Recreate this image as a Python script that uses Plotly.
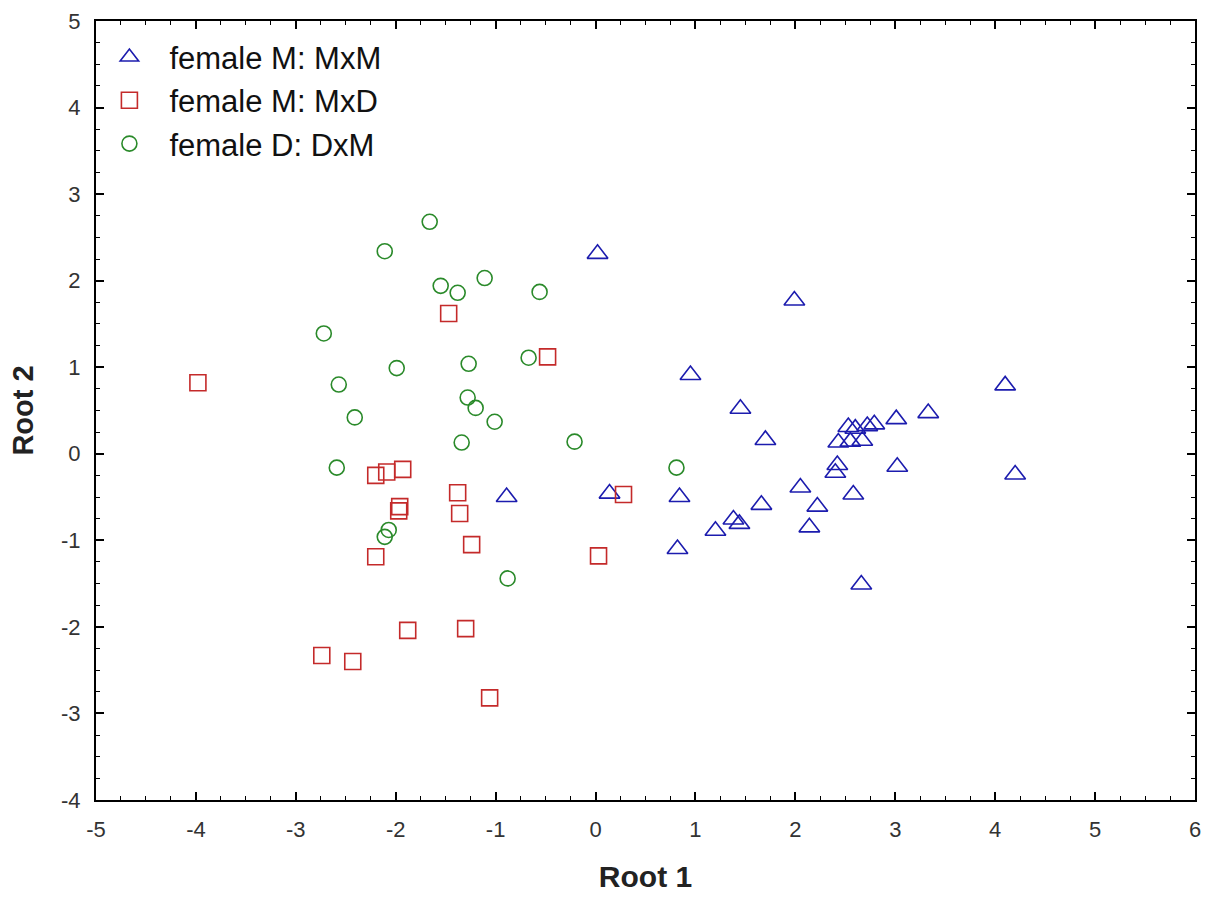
import plotly.graph_objects as go

mxm_x = [0.02, 1.99, 0.95, 4.10, 1.45, 3.33, 3.01, 2.79, 2.72, 2.53, 2.60, 2.43, 2.55, 2.67,
         2.42, 2.40, 3.02, 4.20, 2.05, 2.58, 2.22, 2.14, 2.66, 1.70, -0.89, 0.14, 0.84, 0.82,
         1.20, 1.38, 1.44, 1.66]
mxm_y = [2.31, 1.77, 0.91, 0.79, 0.52, 0.47, 0.40, 0.34, 0.32, 0.31, 0.29, 0.13, 0.14, 0.15,
         -0.13, -0.22, -0.15, -0.24, -0.39, -0.47, -0.61, -0.85, -1.51, 0.16, -0.50, -0.46, -0.50, -1.10,
         -0.89, -0.76, -0.81, -0.59]

mxd_x = [-3.98, -1.47, -0.48, -2.20, -2.09, -1.93, -1.96, -1.97, -1.38, -1.36, -1.24, -2.20,
         0.28, 0.03, -1.88, -1.30, -2.74, -2.43, -1.06]
mxd_y = [0.82, 1.62, 1.12, -0.25, -0.21, -0.18, -0.61, -0.66, -0.45, -0.69, -1.05, -1.19,
         -0.47, -1.18, -2.04, -2.02, -2.33, -2.40, -2.82]

dxm_x = [-1.66, -2.11, -1.55, -1.38, -1.11, -0.56, -2.72, -1.99, -1.27, -0.67, -2.57, -2.41,
         -1.28, -1.20, -1.01, -1.34, -0.21, 0.81, -2.59, -2.07, -2.11, -0.88]
dxm_y = [2.68, 2.34, 1.94, 1.86, 2.03, 1.87, 1.39, 0.99, 1.04, 1.11, 0.80, 0.42,
         0.65, 0.53, 0.37, 0.13, 0.14, -0.16, -0.16, -0.88, -0.96, -1.44]

x_ticks = [-5, -4, -3, -2, -1, 0, 1, 2, 3, 4, 5, 6]
y_ticks = [-4, -3, -2, -1, 0, 1, 2, 3, 4, 5]

series = [
    ("female M: MxM", mxm_x, mxm_y, "triangle-up-open", "#1c1cae", 18),
    ("female M: MxD", mxd_x, mxd_y, "square-open", "#c42a2a", 16),
    ("female D: DxM", dxm_x, dxm_y, "circle-open", "#2a8a2a", 15),
]

fig = go.Figure()
for i, (name, xs, ys, sym, col, sz) in enumerate(series):
    fig.add_trace(go.Scatter(
        x=xs, y=ys, mode="markers", name=name, legendgroup=f"g{i}",
        marker=dict(symbol=sym, size=sz, color=col, line=dict(width=1.6, color=col)),
    ))

axis_common = dict(
    showgrid=False, zeroline=False, showline=True, linecolor="black", linewidth=2,
    mirror="ticks", ticks="inside", ticklen=8, tickwidth=1.5, tickcolor="black",
    tickfont=dict(family="Liberation Sans, Arial, sans-serif", size=22, color="#333333"),
    minor=dict(ticks="inside", ticklen=4, tickwidth=1.2, tickcolor="black", dtick=0.25),
    automargin=False,
)

fig.update_layout(
    width=1221, height=897,
    margin=dict(l=96, r=26, t=21, b=97),
    paper_bgcolor="white", plot_bgcolor="white",
    font=dict(family="Liberation Sans, Arial, sans-serif", color="black"),
    xaxis=dict(range=[-5, 6], tickmode="array", tickvals=x_ticks,
               ticktext=[str(v) for v in x_ticks], ticklabelstandoff=9,
               title=dict(text="<b>Root 1</b>", font=dict(size=30, color="#222222"), standoff=25),
               **axis_common),
    yaxis=dict(range=[-4, 5], tickmode="array", tickvals=y_ticks,
               ticktext=[str(v) for v in y_ticks], ticklabelstandoff=9,
               title=dict(text="<b>Root 2</b>", font=dict(size=29, color="#222222"), standoff=19),
               **axis_common),
    legend=dict(x=-0.006, y=0.988, xanchor="left", yanchor="top",
                font=dict(size=31, color="#111111"), bgcolor="rgba(0,0,0,0)",
                tracegroupgap=0, itemwidth=70),
    showlegend=True,
)

fig.write_html("out.html")
